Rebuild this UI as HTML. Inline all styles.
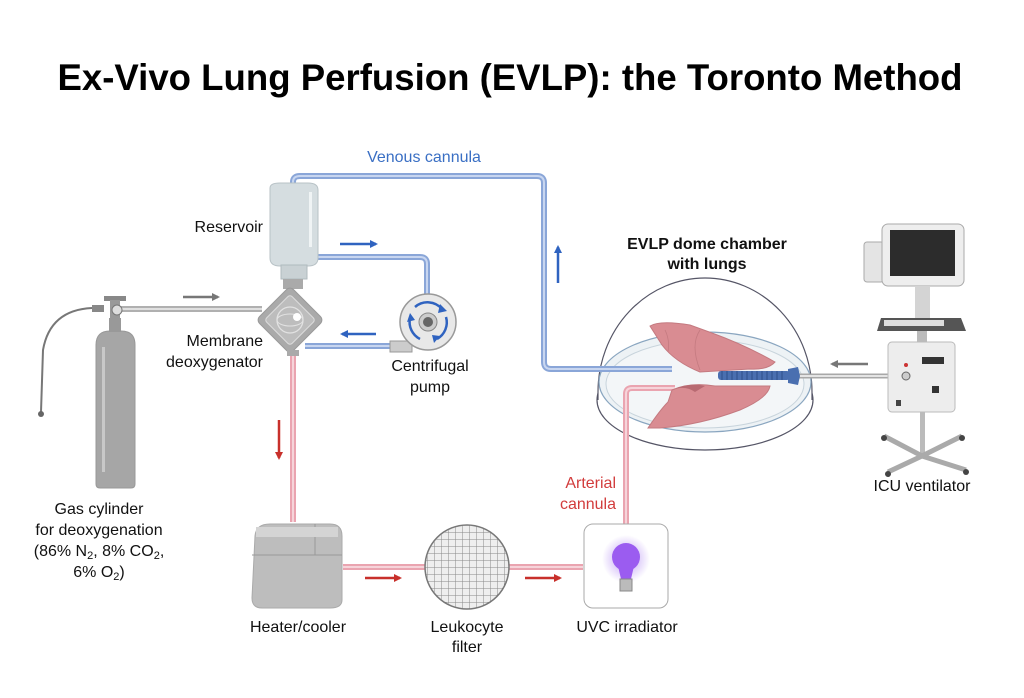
<!DOCTYPE html>
<html><head><meta charset="utf-8"><style>
html,body{margin:0;padding:0;background:#fff;width:1024px;height:698px;overflow:hidden}
svg{display:block}
text{font-family:"Liberation Sans",Arial,sans-serif}
</style></head><body>
<svg width="1024" height="698" viewBox="0 0 1024 698" xmlns="http://www.w3.org/2000/svg">
<defs>
<marker id="ab" markerWidth="8" markerHeight="8" refX="6" refY="4" orient="auto" markerUnits="userSpaceOnUse"><path d="M0,0 L8,4 L0,8 Z" fill="#2f63c0"/></marker>
<marker id="ar" markerWidth="8" markerHeight="8" refX="6" refY="4" orient="auto" markerUnits="userSpaceOnUse"><path d="M0,0 L8,4 L0,8 Z" fill="#c8302b"/></marker>
<marker id="ag" markerWidth="8" markerHeight="8" refX="6" refY="4" orient="auto" markerUnits="userSpaceOnUse"><path d="M0,0 L8,4 L0,8 Z" fill="#777"/></marker>
<radialGradient id="glow"><stop offset="0" stop-color="#a070f0" stop-opacity="0.7"/><stop offset="1" stop-color="#a070f0" stop-opacity="0"/></radialGradient>
<pattern id="grid" width="7" height="7" patternUnits="userSpaceOnUse"><rect width="7" height="7" fill="#eee"/><path d="M0,0H7M0,0V7" stroke="#888" stroke-width="1"/></pattern>
</defs>

<text x="510" y="90" text-anchor="middle" font-size="37" font-weight="bold" textLength="905" lengthAdjust="spacingAndGlyphs">Ex-Vivo Lung Perfusion (EVLP): the Toronto Method</text>

<!-- dome (behind tubes) -->
<ellipse cx="705" cy="400" rx="108" ry="50" fill="#fff" stroke="#556" stroke-width="1.2"/>
<path d="M598,400 V392 A107,114 0 0 1 812,392 V400" fill="#fff" stroke="#556" stroke-width="1.2"/>
<ellipse cx="705" cy="382" rx="106" ry="50" fill="#edf2f5" stroke="#8aa6c0" stroke-width="1.2"/>
<ellipse cx="705" cy="384" rx="99" ry="44" fill="#f3f6f8" stroke="#c8d4dc"/>

<!-- tubing -->
<g fill="none" stroke-linejoin="round">
<path d="M293,185 V182 Q293,176 300,176 H537 Q544,176 544,183 V362 Q544,369 551,369 H672" stroke="#8aa6d8" stroke-width="6"/>
<path d="M293,185 V182 Q293,176 300,176 H537 Q544,176 544,183 V362 Q544,369 551,369 H672" stroke="#c8d6f0" stroke-width="2"/>
<path d="M318,257 H420 Q427,257 427,264 V296" stroke="#8aa6d8" stroke-width="6"/>
<path d="M318,257 H420 Q427,257 427,264 V296" stroke="#c8d6f0" stroke-width="2"/>
<path d="M305,346 H395" stroke="#8aa6d8" stroke-width="6"/>
<path d="M305,346 H395" stroke="#c8d6f0" stroke-width="2"/>
<path d="M293,352 V522" stroke="#eaa4b0" stroke-width="6"/>
<path d="M293,352 V522" stroke="#f6d4da" stroke-width="2"/>
<path d="M343,567 H583" stroke="#eaa4b0" stroke-width="6"/>
<path d="M343,567 H583" stroke="#f6d4da" stroke-width="2"/>
<path d="M626,524 V394 Q626,388 632,388 H675" stroke="#eaa4b0" stroke-width="6"/>
<path d="M626,524 V394 Q626,388 632,388 H675" stroke="#f6d4da" stroke-width="2"/>
<path d="M120,309 H262" stroke="#b0b0b0" stroke-width="6"/>
<path d="M120,309 H262" stroke="#e0e0e0" stroke-width="2"/>
<path d="M797,376 H905" stroke="#a8a8a8" stroke-width="5"/>
<path d="M797,376 H905" stroke="#e4e4e4" stroke-width="2"/>
</g>

<!-- lungs -->
<path d="M650,326 Q660,320 690,325 L712,333 Q745,345 775,362 Q768,370 750,369 L700,372 Q675,362 662,345 Z" fill="#d98c92" stroke="#c47a80"/>
<path d="M700,330 Q690,345 700,370 M665,330 Q670,340 668,352" stroke="#c47a80" fill="none" stroke-width="0.8"/>
<path d="M648,428 Q660,410 668,402 L672,390 Q690,382 715,386 L770,386 Q768,398 740,410 Q700,425 660,428 Z" fill="#d98c92" stroke="#c47a80"/>
<path d="M672,390 Q685,385 695,392 L705,386 Q690,382 672,390Z" fill="#b86a72"/>
<rect x="718" y="371" width="72" height="9" rx="3" fill="#4a6fb0"/>
<g stroke="#2f4f8a" stroke-width="1">
<path d="M722,371V380M727,371V380M732,371V380M737,371V380M742,371V380M747,371V380M752,371V380M757,371V380M762,371V380M767,371V380M772,371V380M777,371V380M782,371V380"/>
</g>
<path d="M788,369 L798,367 L800,376 L798,385 L788,383Z" fill="#4a6fb0"/>

<!-- arrows -->
<g stroke-width="2.5" fill="none">
<line x1="340" y1="244" x2="376" y2="244" stroke="#2f63c0" marker-end="url(#ab)"/>
<line x1="376" y1="334" x2="342" y2="334" stroke="#2f63c0" marker-end="url(#ab)"/>
<line x1="558" y1="283" x2="558" y2="247" stroke="#2f63c0" marker-end="url(#ab)"/>
<line x1="183" y1="297" x2="218" y2="297" stroke="#777" marker-end="url(#ag)"/>
<line x1="868" y1="364" x2="832" y2="364" stroke="#777" marker-end="url(#ag)"/>
<line x1="279" y1="420" x2="279" y2="458" stroke="#c8302b" marker-end="url(#ar)"/>
<line x1="365" y1="578" x2="400" y2="578" stroke="#c8302b" marker-end="url(#ar)"/>
<line x1="525" y1="578" x2="560" y2="578" stroke="#c8302b" marker-end="url(#ar)"/>
</g>

<!-- reservoir -->
<path d="M270,188 Q270,183 280,183 H308 Q318,183 318,190 V258 Q318,266 308,266 H280 Q270,266 270,258 Z" fill="#d5dde0" stroke="#b8c2c6"/>
<rect x="281" y="265" width="26" height="14" fill="#c9d1d4" stroke="#b0babe"/>
<rect x="309" y="192" width="3" height="55" fill="#f0f4f5"/>
<rect x="283" y="279" width="20" height="10" fill="#aaa"/>
<!-- membrane -->
<g transform="translate(290,320) rotate(45)">
<rect x="-24" y="-24" width="48" height="48" rx="5" fill="#aaa" stroke="#999"/>
<rect x="-18" y="-18" width="36" height="36" rx="3" fill="#bdbdbd" stroke="#ddd"/>
</g>
<circle cx="290" cy="320" r="13" fill="none" stroke="#e2e2e2" stroke-width="1.3"/>
<ellipse cx="290" cy="320" rx="13" ry="6" fill="none" stroke="#e2e2e2" stroke-width="1"/>
<circle cx="297" cy="317" r="4" fill="#fff"/>
<rect x="287" y="350" width="12" height="6" fill="#aaa"/>
<!-- pump -->
<rect x="390" y="341" width="22" height="11" fill="#ccc" stroke="#999"/>
<circle cx="428" cy="322" r="28" fill="#e8e8e8" stroke="#999" stroke-width="1.5"/>
<circle cx="428" cy="322" r="9" fill="#ccc" stroke="#888"/>
<circle cx="428" cy="322" r="5" fill="#666"/>
<g fill="none" stroke="#2f63c0" stroke-width="2.5">
<path d="M415,307 A19,19 0 0 1 442,309"/>
<path d="M446,317 A19,19 0 0 1 437,339"/>
<path d="M420,339 A19,19 0 0 1 410,318"/>
</g>
<path d="M440,304 L447,311 L438,313Z M440,336 L434,343 L432,335Z M407,322 L410,313 L415,320Z" fill="#2f63c0"/>

<!-- cylinder -->
<path d="M96,345 Q96,331 110,331 H121 Q135,331 135,345 V484 Q135,488 131,488 H100 Q96,488 96,484 Z" fill="#a6a6a6" stroke="#989898"/>
<rect x="102" y="347" width="3" height="125" fill="#c8c8c8"/>
<rect x="109" y="318" width="12" height="14" fill="#999"/>
<rect x="104" y="296" width="22" height="5" fill="#888"/>
<rect x="110" y="300" width="10" height="18" fill="#999"/>
<circle cx="117" cy="310" r="5" fill="#ddd" stroke="#777"/>
<rect x="92" y="305" width="12" height="7" fill="#888"/>
<path d="M92,308 Q50,310 43,350 L41,412" fill="none" stroke="#777" stroke-width="2"/>
<circle cx="41" cy="414" r="3" fill="#666"/>

<!-- heater -->
<path d="M255,536 Q256,524 270,524 H330 Q342,524 342,536 V600 Q342,608 330,608 H262 Q252,608 252,598 Z" fill="#bdbdbd" stroke="#aaa"/>
<path d="M252,555 H342 M315,524 V555" stroke="#999" fill="none"/>
<rect x="256" y="527" width="82" height="10" fill="#d4d4d4"/>
<!-- filter -->
<circle cx="467" cy="567" r="42" fill="url(#grid)" stroke="#777" stroke-width="1.5"/>
<!-- UVC -->
<rect x="584" y="524" width="84" height="84" rx="9" fill="#fff" stroke="#aaa"/>
<circle cx="626" cy="559" r="24" fill="url(#glow)"/>
<circle cx="626" cy="557" r="14" fill="#9b5cf0"/>
<path d="M618,566 H634 L631,579 H621 Z" fill="#9b5cf0"/>
<rect x="620" y="579" width="12" height="12" fill="#bbb" stroke="#888"/>

<!-- ventilator -->
<rect x="864" y="242" width="20" height="40" rx="3" fill="#e4e4e4" stroke="#aaa"/>
<rect x="882" y="224" width="82" height="62" rx="6" fill="#eee" stroke="#aaa"/>
<rect x="890" y="230" width="65" height="46" fill="#2c2c2c"/>
<rect x="915" y="286" width="15" height="32" fill="#d4d4d4"/>
<path d="M881,318 H961 L966,331 H877Z" fill="#555"/>
<rect x="884" y="320" width="60" height="6" fill="#ddd"/>
<rect x="917" y="331" width="10" height="12" fill="#bbb"/>
<rect x="888" y="342" width="67" height="70" rx="4" fill="#ededed" stroke="#bbb"/>
<rect x="922" y="357" width="22" height="7" fill="#333"/>
<circle cx="906" cy="365" r="2" fill="#c33"/>
<circle cx="906" cy="376" r="4" fill="#ccc" stroke="#666"/>
<rect x="932" y="386" width="7" height="7" fill="#333"/>
<rect x="896" y="400" width="5" height="6" fill="#444"/>
<rect x="920" y="412" width="5" height="45" fill="#bbb"/>
<path d="M884,436 L922,456 L962,436 M888,472 L922,456 L966,470" stroke="#aaa" stroke-width="5" fill="none"/>
<circle cx="884" cy="438" r="3" fill="#444"/><circle cx="962" cy="438" r="3" fill="#444"/>
<circle cx="888" cy="474" r="3" fill="#444"/><circle cx="966" cy="472" r="3" fill="#444"/>

<!-- labels -->
<g font-size="16" fill="#111">
<text x="424" y="162" text-anchor="middle" fill="#3a6fc4">Venous cannula</text>
<text x="263" y="232" text-anchor="end">Reservoir</text>
<text x="263" y="346" text-anchor="end">Membrane</text>
<text x="263" y="367" text-anchor="end">deoxygenator</text>
<text x="430" y="371" text-anchor="middle">Centrifugal</text>
<text x="430" y="392" text-anchor="middle">pump</text>
<text x="99" y="514" text-anchor="middle">Gas cylinder</text>
<text x="99" y="535" text-anchor="middle">for deoxygenation</text>
<text x="99" y="556" text-anchor="middle">(86% N<tspan font-size="11" dy="3">2</tspan><tspan dy="-3">, 8% CO</tspan><tspan font-size="11" dy="3">2</tspan><tspan dy="-3">,</tspan></text>
<text x="99" y="577" text-anchor="middle">6% O<tspan font-size="11" dy="3">2</tspan><tspan dy="-3">)</tspan></text>
<text x="298" y="632" text-anchor="middle">Heater/cooler</text>
<text x="467" y="632" text-anchor="middle">Leukocyte</text>
<text x="467" y="652" text-anchor="middle">filter</text>
<text x="627" y="632" text-anchor="middle">UVC irradiator</text>
<text x="616" y="488" text-anchor="end" fill="#d23c3c">Arterial</text>
<text x="616" y="509" text-anchor="end" fill="#d23c3c">cannula</text>
<text x="922" y="491" text-anchor="middle">ICU ventilator</text>
<text x="707" y="249" text-anchor="middle" font-weight="bold">EVLP dome chamber</text>
<text x="707" y="269" text-anchor="middle" font-weight="bold">with lungs</text>
</g>
</svg>
</body></html>
